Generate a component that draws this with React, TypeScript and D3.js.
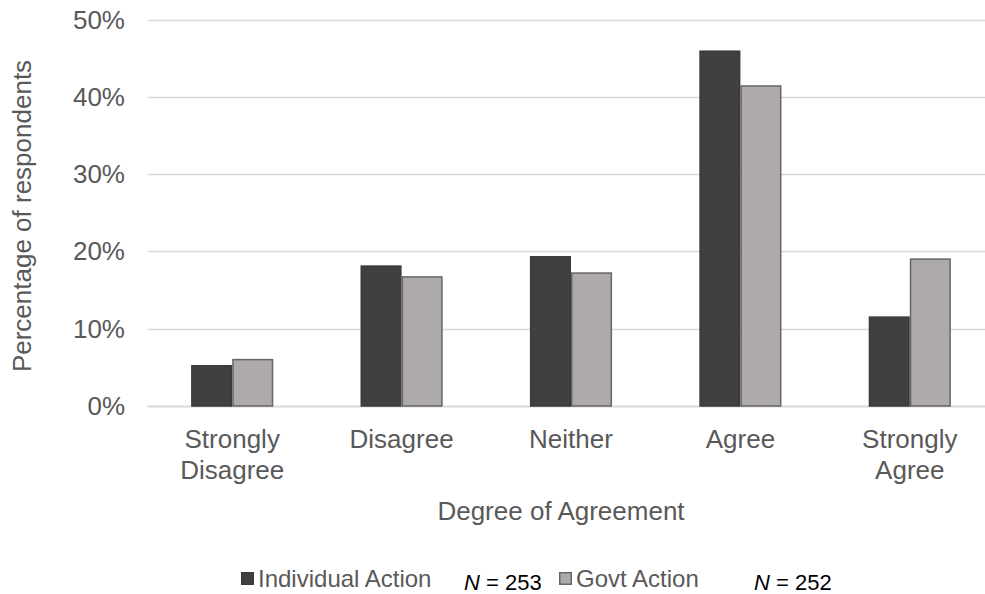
import React, { useEffect, useRef } from 'react';
import * as d3 from 'd3';

const categories = ['Strongly Disagree', 'Disagree', 'Neither', 'Agree', 'Strongly Agree'];
const categoryLines = [['Strongly', 'Disagree'], ['Disagree'], ['Neither'], ['Agree'], ['Strongly', 'Agree']];
const individualAction = [5.2, 18.1, 19.3, 45.9, 11.5];
const govtAction = [6.0, 16.7, 17.2, 41.4, 19.0];
const seriesNames = ['Individual Action', 'Govt Action'];
const seriesN = [253, 252];
const yTicks = [0, 10, 20, 30, 40, 50];

export default function App() {
  const ref = useRef<SVGSVGElement>(null);

  useEffect(() => {
    if (!ref.current) return;
    const svg = d3.select(ref.current);
    svg.selectAll('*').remove();

    const W = 985, H = 594;
    const left = 147.5, right = 994.5, top = 19.5, bottom = 406;
    const font = '"Liberation Sans", Arial, sans-serif';
    const grey = '#595959';

    const x = d3.scaleBand().domain(categories).range([left, right]).paddingInner(0.515).paddingOuter(0.2575);
    const xs = d3.scaleBand().domain(seriesNames).range([0, x.bandwidth()]);
    const y = d3.scaleLinear().domain([0, 50]).range([bottom, top]);

    svg.attr('width', W).attr('height', H);

    const label = (px: number, py: number, txt: string, size: number, anchor: string, rot = 0, fill = grey) =>
      svg.append('text')
        .attr('transform', `translate(${px},${py}) rotate(${rot})`)
        .attr('text-anchor', anchor).attr('font-family', font).attr('font-size', size).attr('fill', fill)
        .text(txt);

    // gridlines
    svg.append('g').selectAll('line').data(yTicks).enter().append('line')
      .attr('x1', left).attr('x2', right)
      .attr('y1', d => Math.round(y(d)) + 0.5).attr('y2', d => Math.round(y(d)) + 0.5)
      .attr('stroke', '#d9d9d9').attr('stroke-width', d => d === 0 ? 2 : 1.5);

    // y tick labels
    yTicks.forEach(t => label(125, y(t) + 9, `${t}%`, 26, 'end'));

    const data = categories.map((c, i) => ({ c, vals: [individualAction[i], govtAction[i]] }));
    const fills = ['#404040', '#aeaaaa'];
    const strokes = ['#3a3a3a', '#666666'];

    const groups = svg.append('g').selectAll('g').data(data).enter().append('g')
      .attr('transform', d => `translate(${x(d.c)},0)`);
    groups.selectAll('rect').data(d => d.vals.map((v, k) => ({ v, k }))).enter().append('rect')
      .attr('x', d => (xs(seriesNames[d.k]) || 0) + 0.75)
      .attr('y', d => y(d.v))
      .attr('width', xs.bandwidth() - 1.5)
      .attr('height', d => bottom - y(d.v))
      .attr('fill', d => fills[d.k])
      .attr('stroke', d => strokes[d.k]).attr('stroke-width', 1.5);

    // category labels
    categories.forEach((c, i) => {
      const cx = (x(c) || 0) + x.bandwidth() / 2;
      categoryLines[i].forEach((line, j) => label(cx, 448 + j * 31, line, 26, 'middle'));
    });

    // axis titles
    label(561, 520, 'Degree of Agreement', 26, 'middle');
    label(31, 216, 'Percentage of respondents', 26, 'middle', -90);

    // legend
    const legX = [241, 559];
    const nX = [464, 754];
    seriesNames.forEach((s, k) => {
      svg.append('rect').attr('x', legX[k] + 0.75).attr('y', 572.75).attr('width', 11.5).attr('height', 11.5)
        .attr('fill', fills[k]).attr('stroke', strokes[k]).attr('stroke-width', 1.5);
      label(legX[k] + 17, 587, s, 24, 'start');
      const nt = svg.append('text').attr('x', nX[k]).attr('y', 590)
        .attr('font-family', font).attr('font-size', 22).attr('fill', '#000');
      nt.append('tspan').attr('font-style', 'italic').text('N');
      nt.append('tspan').text(` = ${seriesN[k]}`);
    });
  }, []);

  return (
    <svg ref={ref} style={{ position: 'absolute', left: 0, top: 0, overflow: 'hidden', background: '#fff' }} />
  );
}
